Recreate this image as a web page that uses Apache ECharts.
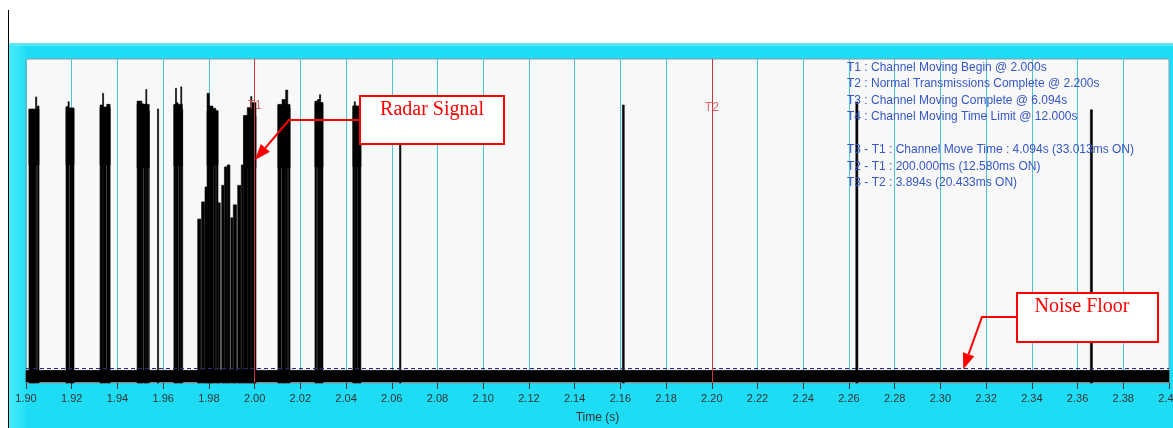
<!DOCTYPE html>
<html>
<head>
<meta charset="utf-8">
<script src="https://cdn.jsdelivr.net/npm/echarts@6/dist/echarts.min.js"></script>
<style>
  html, body { margin: 0; padding: 0; background: #ffffff; }
  #frame { position: absolute; left: 8px; top: 43px; width: 1165px; height: 385px; background: #1ddcf4; }
  #frameLeft { position: absolute; left: 8px; top: 43px; width: 18px; height: 385px; background: linear-gradient(to right, #4cebfa, #22def5); }
  #frameTop { position: absolute; left: 8px; top: 43px; width: 1165px; height: 3px; background: #5ae8f8; }
  #vline { position: absolute; left: 8px; top: 10px; width: 1px; height: 418px; background: #000; }
  #chart { position: absolute; left: 0; top: 0; width: 1173px; height: 428px; }
</style>
</head>
<body>
<div id="frame"></div>
<div id="frameLeft"></div>
<div id="frameTop"></div>
<div id="vline"></div>
<div id="chart"></div>
<script>
// ---- axis ----
const timeMin = 1.90;
const timeMax = 2.40;
const timeStep = 0.02;
const axisTitle = 'Time (s)';

// ---- noise floor band [tStart, tEnd, top, bottom] and detection threshold ----
const noiseBand = [[1.90, 2.40, 3.9, 0.3]];
const thresholdLevel = 4.6;

// ---- radar pulses [tStart, tEnd, top] (from floor) ----
const pulses = [
  [1.9013, 1.9042, 84.5], [1.9042, 1.9047, 88.3], [1.9050, 1.9057, 85.5],
  [1.9175, 1.9184, 85.3], [1.9184, 1.9189, 86.8], [1.9192, 1.9210, 84.6],
  [1.9324, 1.9335, 85.8], [1.9335, 1.9339, 89.4], [1.9339, 1.9350, 85.2], [1.9353, 1.9368, 86.0],
  [1.9486, 1.9507, 87.0], [1.9507, 1.9513, 86.2], [1.9516, 1.9524, 86.0], [1.9524, 1.9528, 90.6], [1.9528, 1.9533, 85.5], [1.9535, 1.9539, 84.0],
  [1.9575, 1.9580, 84.6],
  [1.9647, 1.9654, 85.8], [1.9654, 1.9658, 91.0], [1.9658, 1.9665, 86.5], [1.9668, 1.9677, 85.5], [1.9677, 1.9681, 91.4], [1.9681, 1.9684, 84.5],
  [1.9751, 1.9765, 50.6], [1.9768, 1.9781, 55.9], [1.9783, 1.9792, 60.5],
  [1.9792, 1.9802, 89.4], [1.9802, 1.9818, 85.5], [1.9820, 1.9830, 84.8], [1.9832, 1.9840, 84.0],
  [1.9841, 1.9850, 55.6], [1.9856, 1.9866, 61.0], [1.9868, 1.9879, 66.7], [1.9880, 1.9892, 67.3],
  [1.9896, 1.9905, 51.0], [1.9907, 1.9921, 55.0], [1.9926, 1.9940, 61.0], [1.9942, 1.9951, 67.3],
  [1.9952, 1.9967, 82.5], [1.9968, 1.9983, 85.0], [1.9983, 1.9988, 88.4], [1.9988, 2.0006, 86.5],
  [2.0102, 2.0117, 85.8], [2.0120, 2.0136, 87.5], [2.0136, 2.0145, 90.4], [2.0147, 2.0155, 85.0],
  [2.0264, 2.0272, 87.0], [2.0275, 2.0284, 87.5], [2.0284, 2.0289, 89.0], [2.0289, 2.0299, 86.5],
  [2.0430, 2.0436, 85.5], [2.0436, 2.0441, 86.8], [2.0441, 2.0448, 85.5], [2.0450, 2.0465, 84.5],
  [2.0634, 2.0640, 73.5],
  [2.1609, 2.1617, 85.8],
  [2.2630, 2.2639, 86.7],
  [2.3656, 2.3665, 84.3]
];
// dense upper parts of pulse bursts [tStart, tEnd, top, bottom]
const pulseCaps = [
  [1.9013, 1.9057, 84.5, 67.3],
  [1.9175, 1.9210, 84.9, 67.3],
  [1.9324, 1.9368, 85.0, 67.3],
  [1.9486, 1.9539, 86.0, 66.4],
  [1.9647, 1.9684, 86.0, 67.0],
  [1.9792, 1.9840, 84.0, 67.3],
  [1.9952, 2.0006, 82.5, 66.4],
  [2.0102, 2.0155, 86.0, 66.4],
  [2.0264, 2.0299, 86.5, 66.7],
  [2.0430, 2.0465, 85.5, 66.7]
];

// ---- time markers ----
const markerNames = ['T1', 'T2'];
const markerTimes = [2.000, 2.200];
const markerLabelLevel = [85.5, 84.9];

// ---- info text ----
const infoLines = [
  'T1 : Channel Moving Begin @ 2.000s',
  'T2 : Normal Transmissions Complete @ 2.200s',
  'T3 : Channel Moving Complete @ 6.094s',
  'T4 : Channel Moving Time Limit @ 12.000s',
  '',
  'T3 - T1 : Channel Move Time : 4.094s (33.013ms ON)',
  'T2 - T1 : 200.000ms (12.580ms ON)',
  'T3 - T2 : 3.894s (20.433ms ON)'
];

const pulseData = pulses.map(p => [p[0], p[1], p[2], 0]).concat(pulseCaps);

function rectItem(params, api) {
  const a = api.coord([api.value(0), api.value(2)]);
  const b = api.coord([api.value(1), api.value(3)]);
  const w = Math.max(b[0] - a[0], 1);
  return {
    type: 'rect',
    shape: { x: a[0], y: a[1], width: w, height: b[1] - a[1] },
    style: { fill: '#000000', stroke: '#000000', lineWidth: 0.6 }
  };
}

const red = '#ff0000';
function arrowGraphics(pts, tip, b1, b2) {
  return [
    { type: 'polyline', z: 100, shape: { points: pts }, style: { stroke: red, lineWidth: 2, fill: null } },
    { type: 'polygon', z: 100, shape: { points: [tip, b1, b2] }, style: { fill: red } }
  ];
}

const chart = echarts.init(document.getElementById('chart'), null, { renderer: 'canvas' });
chart.setOption({
  animation: false,
  backgroundColor: 'transparent',
  title: {
    text: infoLines.join('\n'),
    left: 847, top: 59, padding: 0,
    textStyle: { color: '#3557c8', fontSize: 12, fontWeight: 'normal', fontFamily: 'Liberation Sans', lineHeight: 16.5 }
  },
  grid: {
    left: 26, right: 4, top: 59, bottom: 45,
    containLabel: false, outerBoundsMode: 'none',
    show: true, backgroundColor: '#f8f8f8', borderColor: '#7c9ca8', borderWidth: 1
  },
  xAxis: {
    type: 'value', min: timeMin, max: timeMax, interval: timeStep,
    name: axisTitle, nameLocation: 'middle', nameGap: 29,
    nameTextStyle: { color: '#333', fontSize: 12, fontFamily: 'Liberation Sans' },
    axisLine: { show: false },
    axisTick: { show: true, length: 6, lineStyle: { color: '#333', width: 1 } },
    axisLabel: { formatter: v => v.toFixed(2), color: '#333', fontSize: 11, fontFamily: 'Liberation Sans', margin: 10, showMaxLabel: true, showMinLabel: true, hideOverlap: false },
    splitLine: { show: true, lineStyle: { color: '#4ec2da', width: 1 } }
  },
  yAxis: { type: 'value', min: 0, max: 100, show: false, splitLine: { show: false } },
  series: [
    {
      name: 'noise', type: 'custom', renderItem: rectItem, data: noiseBand,
      encode: { x: [0, 1], y: [2, 3] }, z: 2, silent: true,
      markLine: {
        silent: true, symbol: ['none', 'none'], label: { show: false },
        lineStyle: { color: '#2b2b75', width: 1, type: [4, 3] },
        data: [{ yAxis: thresholdLevel }]
      }
    },
    {
      name: 'signal', type: 'custom', renderItem: rectItem, data: pulseData,
      encode: { x: [0, 1], y: [2, 3] }, z: 3, silent: true
    },
    {
      name: 'markers', type: 'scatter', z: 5, silent: true, symbolSize: 0,
      data: markerTimes.map((t, i) => [t, markerLabelLevel[i], markerNames[i]]),
      label: { show: true, position: 'inside', formatter: p => p.data[2], color: '#d04848', fontSize: 12, fontFamily: 'Liberation Sans' },
      markLine: {
        silent: true, symbol: ['none', 'none'], label: { show: false },
        lineStyle: { color: '#cc3838', width: 1, type: 'solid' },
        data: markerTimes.map(t => ({ xAxis: t }))
      }
    }
  ],
  graphic: [
    { type: 'rect', z: 100, shape: { x: 360, y: 96, width: 144, height: 48 }, style: { fill: '#ffffff', stroke: red, lineWidth: 2 } },
    { type: 'text', z: 101, style: { text: 'Radar Signal', x: 432, y: 110, align: 'center', verticalAlign: 'middle', font: '20px "Liberation Serif"', fill: red } },
    ...arrowGraphics([[359, 120], [289, 120], [265.4, 147.8]], [255, 160], [269.9, 151.7], [260.8, 143.9]),
    { type: 'rect', z: 100, shape: { x: 1017, y: 293, width: 141, height: 49 }, style: { fill: '#ffffff', stroke: red, lineWidth: 2 } },
    { type: 'text', z: 101, style: { text: 'Noise Floor', x: 1082, y: 307, align: 'center', verticalAlign: 'middle', font: '20px "Liberation Serif"', fill: red } },
    ...arrowGraphics([[1017, 317], [982, 317], [968.6, 354.2]], [963.3, 369.3], [974.3, 356.2], [962.9, 352.2])
  ]
});
</script>
</body>
</html>
